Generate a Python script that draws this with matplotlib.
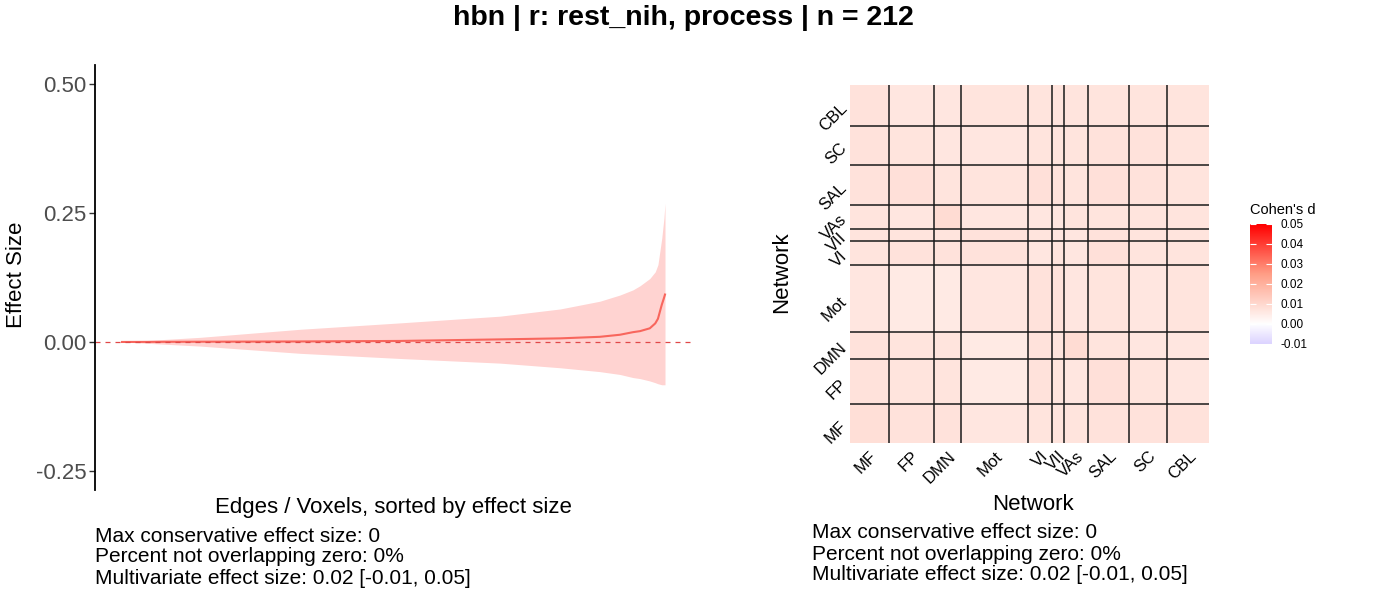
import numpy as np
import matplotlib
matplotlib.use("Agg")
import matplotlib.pyplot as plt
from matplotlib.colors import LinearSegmentedColormap, Normalize

plt.rcParams['font.family'] = ['Liberation Sans', 'DejaVu Sans']

# ---------------- data ----------------
title = "hbn | r: rest_nih, process | n = 212"

# sorted effect-size curve (x = fraction of edges, sorted)
edge_frac = [0.0, 0.144, 0.328, 0.512, 0.696, 0.807, 0.880, 0.917, 0.941, 0.954, 0.972, 0.982, 0.987, 0.994, 0.998, 1.0]
effect    = [0.0, 0.0005, 0.001, 0.002, 0.005, 0.007, 0.010, 0.014, 0.019, 0.021, 0.0265, 0.036, 0.045, 0.072, 0.085, 0.092]
ci_upper  = [0.0, 0.009, 0.0246, 0.037, 0.050, 0.064, 0.079, 0.091, 0.101, 0.109, 0.123, 0.136, 0.150, 0.201, 0.240, 0.269]
ci_lower  = [0.0, -0.008, -0.022, -0.032, -0.041, -0.050, -0.0575, -0.063, -0.069, -0.071, -0.0756, -0.079, -0.081, -0.083, -0.083, -0.083]

y_ticks = [-0.25, 0.0, 0.25, 0.50]
y_tick_labels = ["-0.25", "0.00", "0.25", "0.50"]

networks = ["MF", "FP", "DMN", "Mot", "VI", "VII", "VAs", "SAL", "SC", "CBL"]
network_sizes = [29, 34, 20, 50, 18, 9, 18, 30, 29, 31]

# network-by-network mean Cohen's d
block_d = [
    [0.0085, 0.0075, 0.0075, 0.0065, 0.0070, 0.0070, 0.0070, 0.0075, 0.0075, 0.0075],
    [0.0075, 0.0070, 0.0070, 0.0055, 0.0075, 0.0070, 0.0065, 0.0080, 0.0070, 0.0065],
    [0.0075, 0.0070, 0.0070, 0.0055, 0.0075, 0.0070, 0.0090, 0.0070, 0.0065, 0.0065],
    [0.0065, 0.0055, 0.0055, 0.0065, 0.0075, 0.0075, 0.0065, 0.0070, 0.0065, 0.0070],
    [0.0070, 0.0075, 0.0075, 0.0075, 0.0065, 0.0070, 0.0065, 0.0080, 0.0070, 0.0070],
    [0.0070, 0.0070, 0.0070, 0.0075, 0.0070, 0.0065, 0.0065, 0.0075, 0.0070, 0.0070],
    [0.0070, 0.0065, 0.0090, 0.0065, 0.0065, 0.0065, 0.0070, 0.0070, 0.0070, 0.0070],
    [0.0075, 0.0080, 0.0070, 0.0070, 0.0080, 0.0075, 0.0070, 0.0080, 0.0075, 0.0070],
    [0.0075, 0.0070, 0.0065, 0.0065, 0.0070, 0.0070, 0.0070, 0.0075, 0.0075, 0.0070],
    [0.0075, 0.0065, 0.0065, 0.0070, 0.0070, 0.0070, 0.0070, 0.0070, 0.0070, 0.0070],
]
cbar_ticks = [-0.01, 0.00, 0.01, 0.02, 0.03, 0.04, 0.05]
cbar_labels = ["-0.01", "0.00", "0.01", "0.02", "0.03", "0.04", "0.05"]

caption = ["Max conservative effect size: 0",
           "Percent not overlapping zero: 0%",
           "Multivariate effect size: 0.02 [-0.01, 0.05]"]

# ---------------- figure ----------------
W, H = 1400, 600
fig = plt.figure(figsize=(14, 6), dpi=100)

def fx(px):
    return px / W

def fy(py):
    return 1 - py / H

fig.text(fx(683), fy(18), title, ha='center', va='center', fontsize=20.5, fontweight='bold')

# ---- left panel ----
ax = fig.add_axes([fx(95), fy(490), fx(692) - fx(95), fy(65) - fy(490)])
x = np.array(edge_frac)
ax.fill_between(x, ci_lower, ci_upper, color='#FFD3D1', lw=0)
ax.plot(x, effect, color='#F8665D', lw=1.5)
ax.axhline(0, color='#E04848', lw=0.9, ls=(0, (4, 4)))
ax.set_xlim(-0.0497, 1.0497)
ax.set_ylim(-0.287, 0.537)
ax.set_yticks(y_ticks)
ax.set_yticklabels(y_tick_labels)
ax.set_xticks([])
for s in ['top', 'right', 'bottom']:
    ax.spines[s].set_visible(False)
ax.spines['left'].set_linewidth(1.3)
ax.tick_params(axis='y', labelsize=16, labelcolor='#4D4D4D', length=4, width=1, color='#333333', pad=2)

fig.text(fx(17), fy(275), "Effect Size", rotation=90, ha='center', va='center', fontsize=16)
fig.text(fx(393), fy(508), "Edges / Voxels, sorted by effect size", ha='center', va='center', fontsize=16)

for i, line in enumerate(caption):
    fig.text(fx(95), fy(536 + 21 * i), line, ha='left', va='center', fontsize=15)
    fig.text(fx(812), fy(533 + 21 * i), line, ha='left', va='center', fontsize=15)

# ---- heatmap ----
cmap = LinearSegmentedColormap.from_list(
    'cd', [(0.0, '#DCD3FF'), (1 / 6, '#FFFFFF'), (1 / 6 + 5 / 6 * 0.5, '#FF9E86'), (1.0, '#FF0000')])
norm = Normalize(vmin=-0.01, vmax=0.05)

edges = np.concatenate([[0], np.cumsum(network_sizes)])
centers = (edges[:-1] + edges[1:]) / 2

axh = fig.add_axes([fx(850), fy(443), fx(1209) - fx(850), fy(85) - fy(443)])
axh.pcolormesh(edges, edges, np.array(block_d), cmap=cmap, norm=norm, shading='flat')
for e in edges[1:-1]:
    axh.axvline(e, color='#1a1a1a', lw=1.1)
    axh.axhline(e, color='#1a1a1a', lw=1.1)
axh.set_xlim(0, edges[-1])
axh.set_ylim(0, edges[-1])
for s in axh.spines.values():
    s.set_visible(False)
axh.set_xticks(centers)
axh.set_yticks(centers)
axh.set_xticklabels(networks, rotation=45, ha='right', va='top', rotation_mode='anchor')
axh.set_yticklabels(networks, rotation=45, ha='right', va='center', rotation_mode='anchor')
axh.tick_params(length=0, labelsize=12, pad=4)

fig.text(fx(1033), fy(505), "Network", ha='center', va='center', fontsize=16)
fig.text(fx(782), fy(272), "Network", rotation=90, ha='center', va='center', fontsize=16)

# ---- colorbar ----
axc = fig.add_axes([fx(1250), fy(344), fx(1272) - fx(1250), fy(224) - fy(344)])
grad = np.linspace(-0.01, 0.05, 300).reshape(-1, 1)
axc.imshow(grad, aspect='auto', origin='lower', cmap=cmap, norm=norm,
           extent=[0, 1, -0.01, 0.05])
axc.set_xlim(0, 1)
axc.set_ylim(-0.01, 0.05)
axc.set_xticks([])
axc.set_yticks(cbar_ticks)
axc.set_yticklabels(cbar_labels)
axc.yaxis.tick_right()
axc.tick_params(axis='y', direction='in', color='white', length=4, width=0.8,
                left=True, right=True, labelleft=False, labelright=True, labelsize=8.5, pad=6)
for s in axc.spines.values():
    s.set_visible(False)
fig.text(fx(1250), fy(210), "Cohen's d", ha='left', va='center', fontsize=10.5)

fig.savefig("out.png", dpi=100)
